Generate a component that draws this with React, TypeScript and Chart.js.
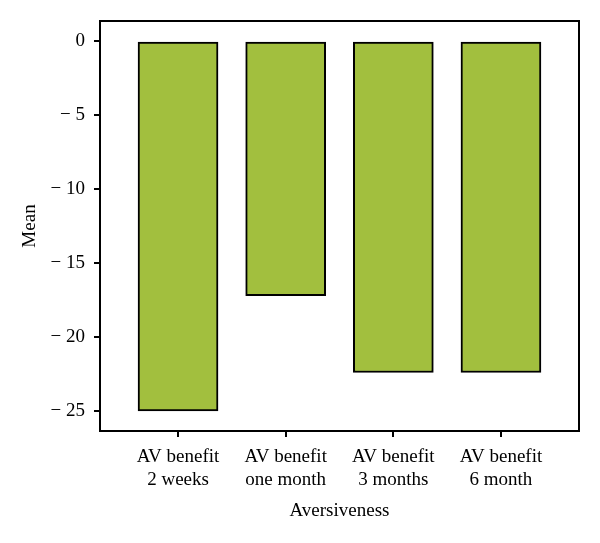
import React, { useEffect, useRef } from "react";
import { Chart, registerables } from "chart.js";

Chart.register(...registerables);

const categories: string[][] = [
  ["AV benefit", "2 weeks"],
  ["AV benefit", "one month"],
  ["AV benefit", "3 months"],
  ["AV benefit", "6 month"],
];
const meanValues: number[] = [-25, -17.2, -22.4, -22.4];
const yTicks: number[] = [0, -5, -10, -15, -20, -25];

const FONT = "'Liberation Serif', 'DejaVu Serif', serif";

const framePlugin = {
  id: "frame",
  afterDraw(chart: any) {
    const { ctx, chartArea } = chart;
    ctx.save();
    ctx.strokeStyle = "#000";
    ctx.lineWidth = 2;
    ctx.strokeRect(chartArea.left, chartArea.top, chartArea.right - chartArea.left, chartArea.bottom - chartArea.top);
    ctx.restore();
  },
};

export default function App() {
  const ref = useRef<HTMLCanvasElement>(null);
  useEffect(() => {
    if (!ref.current) return;
    const chart = new Chart(ref.current, {
      type: "bar",
      data: {
        datasets: [
          {
            data: meanValues.map((v, i) => ({ x: i, y: v })),
            backgroundColor: "#a2bf3e",
            borderColor: "#000",
            borderWidth: 2,
            borderSkipped: false,
            barThickness: 80,
          } as any,
        ],
      },
      options: {
        animation: false,
        responsive: false,
        devicePixelRatio: 1,
        layout: { padding: { top: 21, right: 21, left: 0, bottom: 0 } },
        plugins: { legend: { display: false }, tooltip: { enabled: false } },
        scales: {
          x: {
            type: "linear",
            offset: false,
            min: -0.725,
            max: 3.725,
            afterBuildTicks: (s: any) => {
              s.ticks = categories.map((_, i) => ({ value: i }));
            },
            afterFit: (s: any) => {
              s.height = 112;
            },
            grid: { offset: false, drawOnChartArea: false, color: "#000", lineWidth: 2, tickLength: 6 },
            border: { color: "#000", width: 2 },
            ticks: {
              color: "#000",
              font: { family: FONT, size: 19 },
              padding: 9,
              maxRotation: 0,
              autoSkip: false,
              callback: (v: any) => categories[Math.round(Number(v))] ?? "",
            },
            title: {
              display: true,
              text: "Aversiveness",
              color: "#000",
              font: { family: FONT, size: 19 },
              padding: { top: 6, bottom: 21 },
            },
          },
          y: {
            type: "linear",
            min: -26.35,
            max: 1.35,
            afterBuildTicks: (s: any) => {
              s.ticks = yTicks.map((v) => ({ value: v }));
            },
            afterFit: (s: any) => {
              s.width = 100;
            },
            grid: { drawOnChartArea: false, color: "#000", lineWidth: 2, tickLength: 6 },
            border: { color: "#000", width: 2 },
            ticks: {
              color: "#000",
              font: { family: FONT, size: 19 },
              padding: 9,
              callback: (v: any) => (Number(v) < 0 ? "\u2212 " + Math.abs(Number(v)) : String(v)),
            },
            title: {
              display: true,
              text: "Mean",
              color: "#000",
              font: { family: FONT, size: 19 },
              padding: { top: 19, bottom: 4 },
            },
          },
        },
      },
      plugins: [framePlugin],
    });
    return () => chart.destroy();
  }, []);
  return (
    <div style={{ position: "absolute", left: 0, top: 0, width: 600, height: 543, background: "#fff" }}>
      <canvas ref={ref} width={600} height={543} />
    </div>
  );
}
